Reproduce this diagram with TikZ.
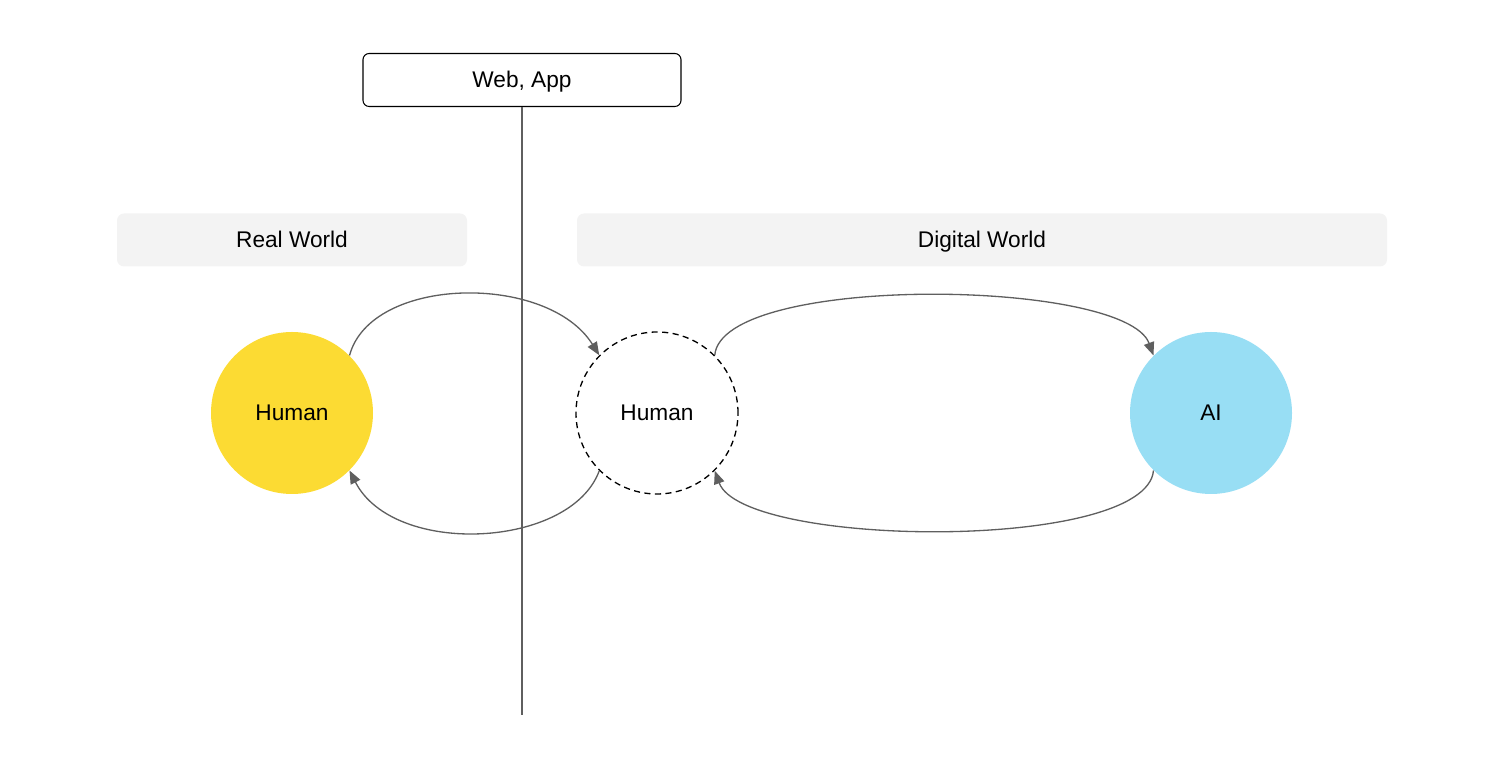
\documentclass[tikz,border=0pt]{standalone}
\usepackage{fontspec}
\setmainfont{Liberation Sans}
\usepackage{xcolor}
\usetikzlibrary{shapes,arrows.meta,positioning,calc}
\definecolor{humanyellow}{HTML}{FCDB33}
\definecolor{aiblue}{HTML}{98DEF4}
\definecolor{bandgray}{HTML}{F3F3F3}
\definecolor{linegray}{HTML}{5F5F5F}

\begin{document}
\begin{tikzpicture}[auto, node distance=1cm]
      \tikzset{align=center,font=\fontsize{12.9}{15}\selectfont,text height=0.85em,text depth=0pt}
      \tikzset{vertex/.style = {shape=circle,minimum size=3.24cm,inner sep=0pt}}
      \tikzset{band/.style = {rectangle,rounded corners=4pt,fill=bandgray,minimum height=1.06cm}}
      \tikzset{edge/.style = {draw=linegray,line width=0.75pt,-{Triangle[length=7.5pt,width=6pt]}}}

      \useasboundingbox (0,0) rectangle (30.08,15.36);

      \node[rectangle,draw,line width=0.6pt,rounded corners=3.5pt,minimum width=6.36cm,minimum height=1.06cm] (0) at (10.44,13.76) {Web, App};
      \coordinate (0b) at (10.44,1.06);
      \draw[linegray,line width=0.75pt] (0) -- (0b);

      \node[band,minimum width=7cm] (r) at (5.84,10.56) {Real World};
      \node[band,minimum width=16.2cm] (d) at (19.64,10.56) {Digital World};

      \node[vertex,fill=humanyellow] (1) at (5.84,7.1) {Human};
      \node[vertex,draw,line width=0.75pt,dash pattern=on 3.5pt off 2.5pt] (2) at (13.14,7.1) {Human};
      \node[vertex,fill=aiblue] (3) at (24.22,7.1) {AI};

      \path[every edge/.style={edge}]
      (1.45) edge[out=75,in=122,out looseness=0.85,in looseness=1.0] (2.135)
      (2.225) edge[out=250,in=297,out looseness=0.85,in looseness=1.0] (1.315)
      (2.45) edge[out=85,in=110,looseness=0.48] (3.135)
      (3.225) edge[out=265,in=290,looseness=0.48] (2.315)
      ;

\end{tikzpicture}
\end{document}
